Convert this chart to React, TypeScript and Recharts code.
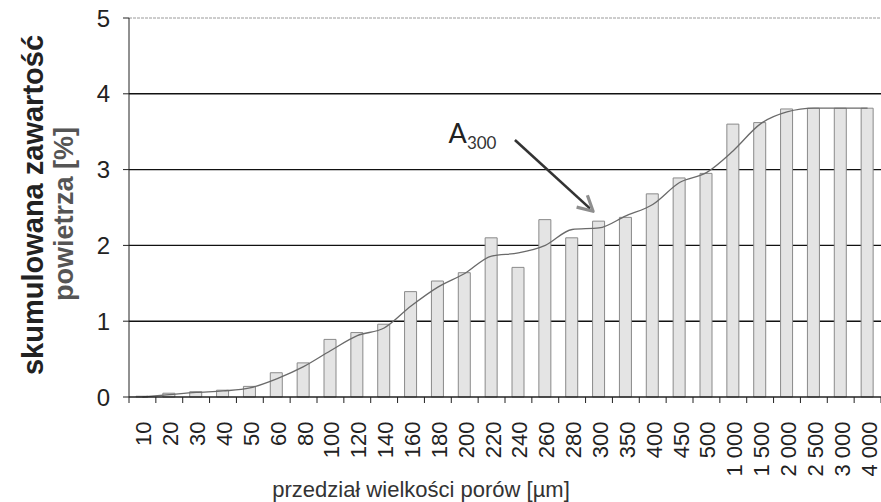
import React from 'react';
import {
  ComposedChart,
  Bar,
  Line,
  XAxis,
  YAxis,
  CartesianGrid,
  ReferenceLine,
  ReferenceDot,
  Label,
} from 'recharts';

// pore size classes [µm]
const CATEGORIES = [
  '10', '20', '30', '40', '50', '60', '80', '100', '120', '140', '160', '180', '200', '220',
  '240', '260', '280', '300', '350', '400', '450', '500', '1 000', '1 500', '2 000', '2 500', '3 000', '4 000',
];
// cumulative air content [%] - bars
const BAR_VALUES = [
  0.01, 0.05, 0.07, 0.09, 0.14, 0.32, 0.45, 0.76, 0.85, 0.96, 1.39, 1.53, 1.64, 2.1,
  1.71, 2.34, 2.1, 2.32, 2.37, 2.68, 2.89, 2.95, 3.6, 3.62, 3.8, 3.81, 3.81, 3.81,
];
// smoothed trend line
const LINE_VALUES = [
  0.0, 0.03, 0.06, 0.08, 0.12, 0.24, 0.4, 0.61, 0.81, 0.91, 1.2, 1.45, 1.63, 1.86,
  1.9, 2.0, 2.21, 2.23, 2.39, 2.54, 2.83, 2.96, 3.25, 3.6, 3.76, 3.81, 3.81, 3.81,
];
const Y_TICKS = [0, 1, 2, 3, 4, 5];

// A300 annotation, x in category index units (0 = first category centre)
const ARROW = [{ x: 13.87, y: 3.39 }, { x: 16.78, y: 2.45 }];
const ANNOT = { x: 11.4, y: 3.35 };

const data = CATEGORIES.map((cat, i) => ({ cat, pos: i, bar: BAR_VALUES[i], line: LINE_VALUES[i] }));

const W = 881;
const H = 502;
const Y_AXIS_W = 129;
const PLOT_W = W - Y_AXIS_W;
const FONT = '"Liberation Sans", Arial, sans-serif';

const XTick = (props: any) => {
  const { x, y, payload, index } = props;
  const half = PLOT_W / CATEGORIES.length / 2;
  return (
    <g>
      <line x1={x - half} x2={x - half} y1={y} y2={y + 6} stroke="#222" />
      {index === CATEGORIES.length - 1 && (
        <line x1={x + half} x2={x + half} y1={y} y2={y + 6} stroke="#222" />
      )}
      <text
        transform={`translate(${x + 9},${y + 24.5}) rotate(-90)`}
        textAnchor="end"
        fontSize={22}
        fontFamily={FONT}
        fill="#222"
      >
        {payload.value}
      </text>
    </g>
  );
};

const YTitle = (props: any) => {
  const { viewBox } = props;
  const cy = viewBox.y + viewBox.height / 2;
  return (
    <g fontFamily={FONT} fontWeight="bold">
      <text transform={`translate(43,${cy - 2.5}) rotate(-90)`} textAnchor="middle" fontSize={29} fill="#222">
        skumulowana zawartość
      </text>
      <text transform={`translate(73,${cy + 6.5}) rotate(-90)`} textAnchor="middle" fontSize={27} fill="#555">
        powietrza [%]
      </text>
    </g>
  );
};

const XTitle = (props: any) => {
  const { viewBox } = props;
  return (
    <text
      x={viewBox.x + 292}
      y={497}
      textAnchor="middle"
      fontSize={22}
      fontFamily={FONT}
      fill="#333"
    >
      przedział wielkości porów [µm]
    </text>
  );
};

const ArrowShape = (p: any) => {
  const { x1, y1, x2, y2 } = p;
  const dx = x2 - x1;
  const dy = y2 - y1;
  const len = Math.hypot(dx, dy);
  const ux = dx / len;
  const uy = dy / len;
  const hl = 15;
  const hw = 8;
  const bx = x2 - ux * hl;
  const by = y2 - uy * hl;
  return (
    <g>
      <line x1={x1} y1={y1} x2={x2 - ux * 4} y2={y2 - uy * 4} stroke="#333" strokeWidth={2.6} />
      <polyline
        points={`${bx - uy * hw},${by + ux * hw} ${x2},${y2} ${bx + uy * hw},${by - ux * hw}`}
        fill="none"
        stroke="#8e8e8e"
        strokeWidth={3.2}
        strokeLinejoin="round"
      />
    </g>
  );
};

const AnnotText = (p: any) => (
  <text x={p.cx} y={p.cy} fontFamily="Lato, 'Open Sans', sans-serif" fontSize={27} fill="#222">
    A
    <tspan dy={6} fontSize={17} fill="#333">
      300
    </tspan>
  </text>
);

export default function App() {
  return (
    <div style={{ position: 'absolute', left: 0, top: 0, width: W, height: H, overflow: 'hidden', background: '#fff' }}>
      <ComposedChart width={W} height={H} data={data} margin={{ top: 18, right: 0, bottom: 0, left: 0 }}>
        <CartesianGrid xAxisId="cat" vertical={false} horizontalValues={[1, 2, 3, 4]} stroke="#111" strokeWidth={1.4} />
        <XAxis
          xAxisId="cat"
          dataKey="cat"
          interval={0}
          height={105}
          tickSize={0}
          tickMargin={0}
          tickLine={false}
          axisLine={{ stroke: '#222', strokeWidth: 1.3 }}
          tick={<XTick />}
        >
          <Label content={<XTitle />} />
        </XAxis>
        <XAxis
          xAxisId="num"
          dataKey="pos"
          type="number"
          domain={[-0.5, CATEGORIES.length - 0.5]}
          allowDataOverflow
          hide
        />
        <YAxis
          domain={[0, 5]}
          ticks={Y_TICKS}
          width={Y_AXIS_W}
          tickSize={6}
          tickMargin={13}
          axisLine={{ stroke: '#222' }}
          tickLine={{ stroke: '#222' }}
          tick={{ fontSize: 24, fill: '#222', fontFamily: FONT }}
        >
          <Label content={<YTitle />} />
        </YAxis>
        <ReferenceLine xAxisId="cat" y={5} stroke="#9a9a9a" strokeDasharray="3 1" />
        <Bar
          xAxisId="cat"
          dataKey="bar"
          barSize={12}
          fill="#e4e4e4"
          stroke="#8a8a8a"
          strokeWidth={1}
          isAnimationActive={false}
        />
        <Line
          xAxisId="cat"
          dataKey="line"
          type="monotone"
          stroke="#6a6a6a"
          strokeWidth={1.3}
          dot={false}
          activeDot={false}
          isAnimationActive={false}
        />
        <ReferenceLine xAxisId="num" segment={ARROW} shape={ArrowShape} ifOverflow="visible" />
        <ReferenceDot xAxisId="num" x={ANNOT.x} y={ANNOT.y} r={0} shape={AnnotText} ifOverflow="visible" />
      </ComposedChart>
    </div>
  );
}
